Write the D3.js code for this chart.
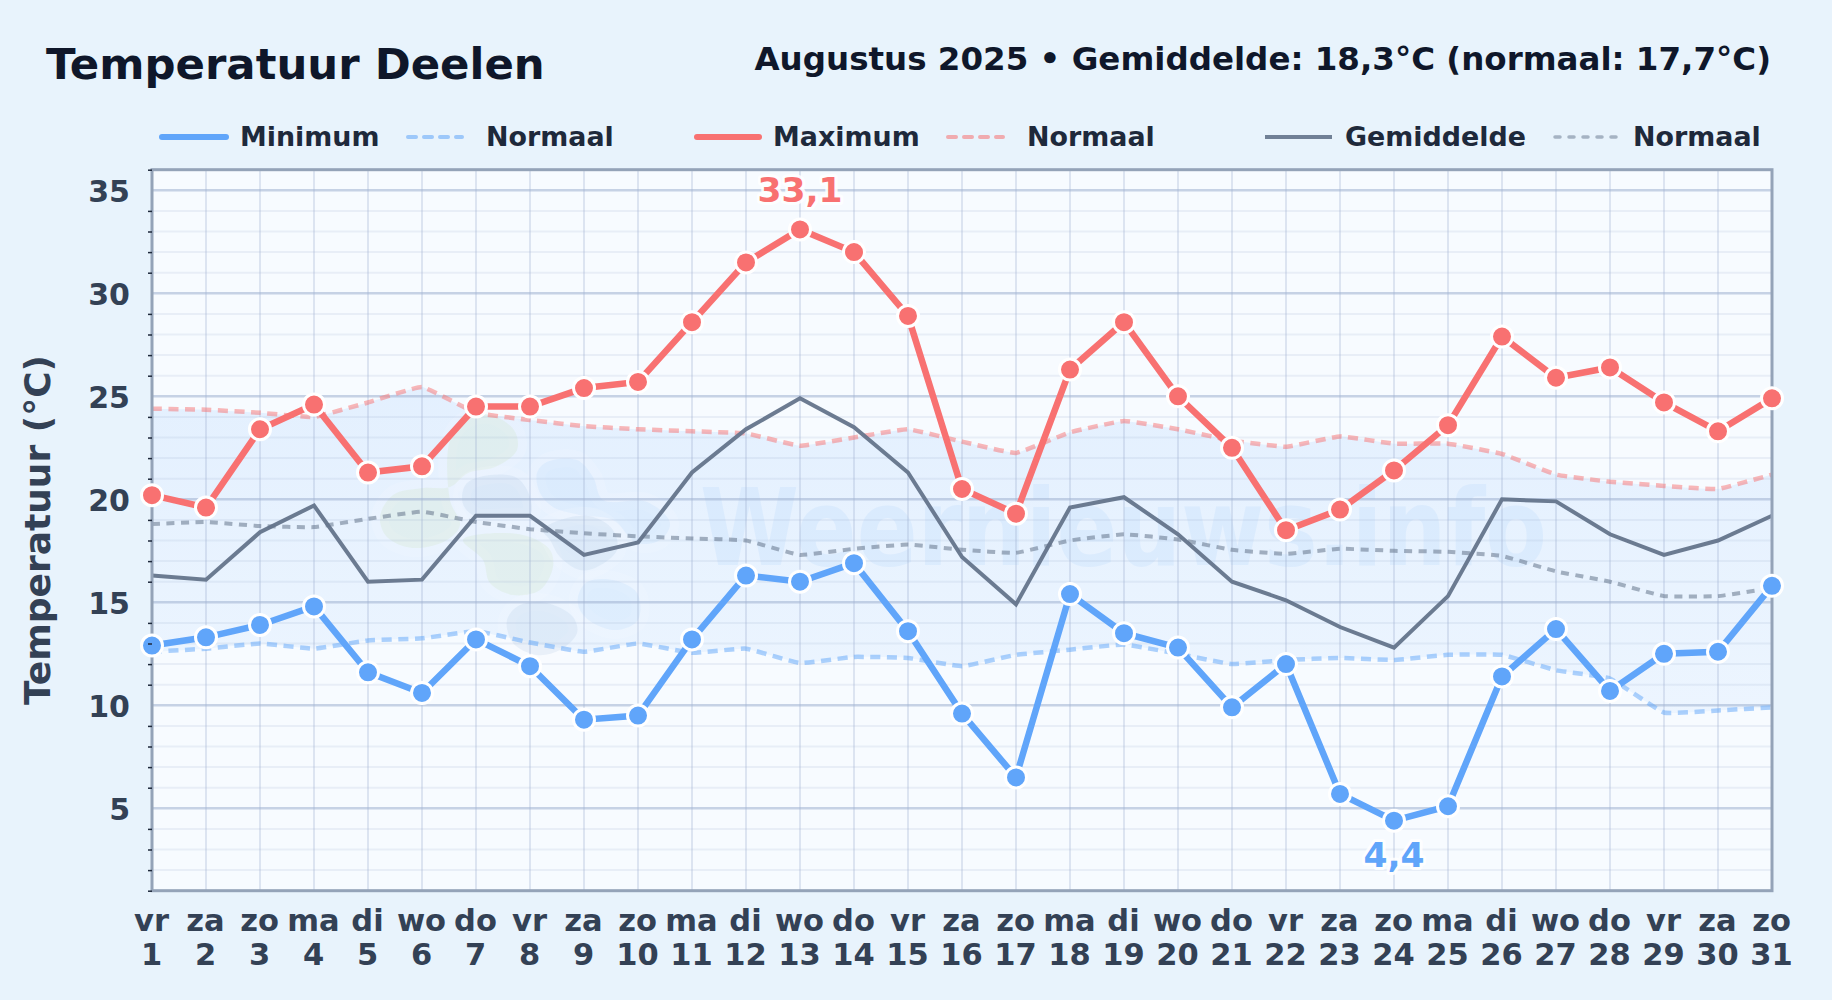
<!DOCTYPE html>
<html>
<head>
<meta charset="utf-8">
<script src="https://cdn.jsdelivr.net/npm/d3@7"></script>
<style>
    html, body { margin: 0; padding: 0; background: #e8f3fc; }
    svg { display: block; }
    text { font-family: "DejaVu Sans", sans-serif; font-weight: bold; }
</style>
</head>
<body>
<svg id="chart"></svg>
<script>
var weekdays = ["vr","za","zo","ma","di","wo","do","vr","za","zo","ma","di","wo","do","vr","za","zo","ma","di","wo","do","vr","za","zo","ma","di","wo","do","vr","za","zo"];
var days = d3.range(1, 32);

var minimum = [12.9,13.3,13.9,14.8,11.6,10.6,13.2,11.9,9.3,9.5,13.2,16.3,16.0,16.9,13.6,9.6,6.5,15.4,13.5,12.8,9.9,12.0,5.7,4.4,5.1,11.4,13.7,10.7,12.5,12.6,15.8];
var maximum = [20.2,19.6,23.4,24.6,21.3,21.6,24.5,24.5,25.4,25.7,28.6,31.5,33.1,32.0,28.9,20.5,19.3,26.3,28.6,25.0,22.5,18.5,19.5,21.4,23.6,27.9,25.9,26.4,24.7,23.3,24.9];
var gemiddelde = [16.3,16.1,18.4,19.7,16.0,16.1,19.2,19.2,17.3,17.9,21.3,23.4,24.9,23.5,21.3,17.2,14.9,19.6,20.1,18.3,16.0,15.1,13.8,12.8,15.3,20.0,19.9,18.3,17.3,18.0,19.2];

var normaal_min = [12.6,12.75,13.0,12.75,13.15,13.25,13.6,13.05,12.6,13.0,12.55,12.75,12.05,12.35,12.3,11.9,12.45,12.7,12.95,12.5,12.0,12.2,12.3,12.2,12.45,12.45,11.7,11.3,9.65,9.75,9.9];
var normaal_max = [24.4,24.35,24.2,24.0,24.7,25.45,24.2,23.85,23.55,23.4,23.3,23.2,22.6,23.0,23.4,22.8,22.25,23.25,23.8,23.4,22.85,22.55,23.05,22.7,22.7,22.2,21.2,20.85,20.65,20.5,21.2];
var normaal_gem = [18.8,18.9,18.7,18.65,19.05,19.4,18.9,18.55,18.35,18.2,18.1,18.0,17.3,17.6,17.8,17.55,17.4,18.0,18.3,18.05,17.55,17.35,17.6,17.5,17.45,17.25,16.5,16.0,15.3,15.3,15.7];

var major_ticks = [5, 10, 15, 20, 25, 30, 35];
var minor_ticks = d3.range(1, 37).filter(function (d) { return d % 5 != 0; });

var blue = "#60a5fa", red = "#f87171", slate = "#64748b";
var left = 152, right = 1772, top_y = 169.7, bottom_y = 890.7;

var x = d3.scaleLinear().domain([1, 31]).range([left, right]);
var y = d3.scaleLinear().domain([1, 36]).range([bottom_y, top_y]);

var svg = d3.select("#chart").attr("width", 1832).attr("height", 1000);

draw_titles();
draw_legend();
draw_plot();
draw_axes();


function draw_titles() {
    svg.append("text").attr("x", 46).attr("y", 79)
        .attr("font-size", 43.4).attr("fill", "#0f172a")
        .text("Temperatuur Deelen");

    svg.append("text").attr("x", 1771).attr("y", 70)
        .attr("text-anchor", "end")
        .attr("font-size", 32.5).attr("fill", "#0f172a")
        .text("Augustus 2025 \u2022 Gemiddelde: 18,3\u00b0C (normaal: 17,7\u00b0C)");
}


function draw_legend() {
    var items = [
        { x1: 162, x2: 226, tx: 240, label: "Minimum", color: blue, w: 6, dash: null, op: 1, cap: "round" },
        { x1: 408, x2: 462, tx: 486, label: "Normaal", color: blue, w: 4, dash: "8,8", op: 0.55, cap: "round" },
        { x1: 697, x2: 759, tx: 773, label: "Maximum", color: red, w: 6, dash: null, op: 1, cap: "round" },
        { x1: 948, x2: 1003, tx: 1027, label: "Normaal", color: red, w: 4, dash: "8,8", op: 0.55, cap: "round" },
        { x1: 1265, x2: 1332, tx: 1345, label: "Gemiddelde", color: slate, w: 4, dash: null, op: 0.9, cap: "butt" },
        { x1: 1555, x2: 1617, tx: 1633, label: "Normaal", color: slate, w: 3.5, dash: "5,9", op: 0.5, cap: "round" }
    ];

    items.forEach(function (d) {
        svg.append("line")
            .attr("x1", d.x1).attr("x2", d.x2).attr("y1", 137).attr("y2", 137)
            .attr("stroke", d.color).attr("stroke-width", d.w)
            .attr("stroke-dasharray", d.dash).attr("stroke-linecap", d.cap)
            .attr("opacity", d.op);

        svg.append("text").attr("x", d.tx).attr("y", 146)
            .attr("font-size", 26.9).attr("fill", "#1e293b")
            .text(d.label);
    });
}


function draw_plot() {
    var defs = svg.append("defs");
    var grad = defs.append("linearGradient").attr("id", "band")
        .attr("x1", 0).attr("x2", 0).attr("y1", 0).attr("y2", 1);
    grad.append("stop").attr("offset", "0%").attr("stop-color", blue).attr("stop-opacity", 0.13);
    grad.append("stop").attr("offset", "100%").attr("stop-color", blue).attr("stop-opacity", 0.07);

    // BACKGROUND
    svg.append("rect")
        .attr("x", left).attr("y", top_y)
        .attr("width", right - left).attr("height", bottom_y - top_y)
        .attr("fill", "#f7fbff");

    // BAND BETWEEN THE NORMALS
    var smooth = d3.curveCardinal.tension(0.7);
    var band = d3.area()
        .x(function (d, i) { return x(days[i]); })
        .y0(function (d, i) { return y(normaal_min[i]); })
        .y1(function (d) { return y(d); })
        .curve(smooth);

    svg.append("path").datum(normaal_max)
        .attr("d", band).attr("fill", "url(#band)");

    draw_watermark();
    draw_grid();

    // NORMAL LINES
    var line_smooth = d3.line()
        .x(function (d, i) { return x(days[i]); })
        .y(function (d) { return y(d); })
        .curve(smooth);

    svg.append("path").datum(normaal_min).attr("d", line_smooth)
        .attr("fill", "none").attr("stroke", blue).attr("stroke-width", 4.5)
        .attr("stroke-dasharray", "10,6.5").attr("opacity", 0.5);
    svg.append("path").datum(normaal_max).attr("d", line_smooth)
        .attr("fill", "none").attr("stroke", red).attr("stroke-width", 4.5)
        .attr("stroke-dasharray", "10,6.5").attr("opacity", 0.5);
    svg.append("path").datum(normaal_gem).attr("d", line_smooth)
        .attr("fill", "none").attr("stroke", slate).attr("stroke-width", 4)
        .attr("stroke-dasharray", "8,6.5").attr("opacity", 0.55);

    // MAIN LINES
    var line_straight = d3.line()
        .x(function (d, i) { return x(days[i]); })
        .y(function (d) { return y(d); });

    svg.append("path").datum(gemiddelde).attr("d", line_straight)
        .attr("fill", "none").attr("stroke", slate).attr("stroke-width", 4)
        .attr("opacity", 0.95);

    // FRAME
    svg.append("rect")
        .attr("x", left).attr("y", top_y)
        .attr("width", right - left).attr("height", bottom_y - top_y)
        .attr("fill", "none").attr("stroke", "#94a3b8").attr("stroke-width", 3);

    draw_series(minimum, blue, line_straight);
    draw_series(maximum, red, line_straight);

    // LABELS FOR THE EXTREMES
    value_label(13, 33.1, "33,1", red, -27);
    value_label(24, 4.4, "4,4", blue, 46);
}


function draw_series(values, color, line) {
    svg.append("path").datum(values).attr("d", line)
        .attr("fill", "none").attr("stroke", color).attr("stroke-width", 6.5);

    svg.append("g").selectAll("circle").data(values).enter().append("circle")
        .attr("cx", function (d, i) { return x(days[i]); })
        .attr("cy", function (d) { return y(d); })
        .attr("r", 10.5)
        .attr("fill", color)
        .attr("stroke", "#fff").attr("stroke-width", 3);
}


function value_label(day, value, label, color, dy) {
    svg.append("text")
        .attr("x", x(day)).attr("y", y(value) + dy)
        .attr("text-anchor", "middle")
        .attr("font-size", 34.5)
        .attr("fill", color)
        .attr("stroke", "#fff").attr("stroke-width", 6)
        .attr("stroke-linejoin", "round")
        .attr("stroke-opacity", 0.85)
        .attr("paint-order", "stroke")
        .text(label);
}


function draw_grid() {
    var grid = svg.append("g");
    var grid_color = "#9fb1d0";

    grid.selectAll(".minor").data(minor_ticks).enter().append("line")
        .attr("x1", left).attr("x2", right)
        .attr("y1", function (d) { return y(d); })
        .attr("y2", function (d) { return y(d); })
        .attr("stroke", grid_color).attr("stroke-opacity", 0.17).attr("stroke-width", 2);

    grid.selectAll(".vertical").data(days).enter().append("line")
        .attr("x1", function (d) { return x(d); })
        .attr("x2", function (d) { return x(d); })
        .attr("y1", top_y).attr("y2", bottom_y)
        .attr("stroke", grid_color).attr("stroke-opacity", 0.3).attr("stroke-width", 2);

    grid.selectAll(".major").data(major_ticks).enter().append("line")
        .attr("x1", left).attr("x2", right)
        .attr("y1", function (d) { return y(d); })
        .attr("y2", function (d) { return y(d); })
        .attr("stroke", grid_color).attr("stroke-opacity", 0.55).attr("stroke-width", 2.5);
}


function draw_watermark() {
    // LOGO BLOBS, DECORATION ONLY
    var blobs = [
        { color: "#cfe6c8", op: 0.28, pts: [[450,440],[465,420],[490,415],[514,430],[517,450],[495,467],[468,473],[450,487],[423,488],[393,495],[380,517],[387,537],[413,548],[447,540],[460,525],[450,500]] },
        { color: "#cfe6c8", op: 0.28, pts: [[463,540],[483,560],[490,583],[513,595],[540,590],[553,567],[550,550],[530,537],[497,533]] },
        { color: "#a9c2e0", op: 0.18, pts: [[462,497],[467,483],[490,475],[517,478],[530,497],[530,515],[507,517],[477,517],[465,508]] },
        { color: "#bcdcfa", op: 0.25, pts: [[537,473],[547,462],[577,460],[593,477],[603,500],[647,502],[670,523],[660,540],[637,543],[613,520],[580,515],[553,507],[540,493]] },
        { color: "#a9c2e0", op: 0.18, pts: [[543,530],[567,518],[593,517],[613,530],[617,550],[597,567],[580,570],[560,557],[550,540]] },
        { color: "#bcdcfa", op: 0.25, pts: [[578,597],[587,582],[613,580],[637,593],[638,620],[617,630],[593,623],[580,610]] },
        { color: "#a9c2e0", op: 0.18, pts: [[507,620],[520,605],[547,603],[573,617],[577,633],[560,650],[537,655],[513,643]] }
    ];
    var blob_line = d3.line().curve(d3.curveCatmullRomClosed);

    blobs.forEach(function (b) {
        svg.append("path").attr("d", blob_line(b.pts))
            .attr("fill", "none")
            .attr("stroke", "#fff").attr("stroke-opacity", 0.12).attr("stroke-width", 18);
        svg.append("path").attr("d", blob_line(b.pts))
            .attr("fill", b.color).attr("fill-opacity", b.op);
    });

    svg.append("text")
        .attr("x", 700).attr("y", 565)
        .attr("font-size", 107)
        .attr("textLength", 847)
        .attr("lengthAdjust", "spacingAndGlyphs")
        .attr("fill", "#93c5fd").attr("opacity", 0.14)
        .text("Weernieuws.info");
}


function draw_axes() {
    // MINOR TICKS ONLY, LABELS ON THE FIVES
    var minor_axis = d3.axisLeft(y).tickValues(minor_ticks).tickSize(4).tickFormat("");
    var g_minor = svg.append("g").attr("transform", "translate(" + left + ",0)").call(minor_axis);
    g_minor.select(".domain").remove();
    g_minor.selectAll("line").attr("stroke", "#1e293b").attr("stroke-width", 1.5);

    var major_axis = d3.axisLeft(y).tickValues(major_ticks).tickSize(0).tickPadding(22);
    var g_major = svg.append("g").attr("transform", "translate(" + left + ",1.2)").call(major_axis);
    g_major.select(".domain").remove();
    g_major.selectAll("text")
        .attr("font-size", 30)
        .attr("font-family", "DejaVu Sans")
        .attr("fill", "#334155");

    // TWO LINE DAY LABELS
    svg.append("g").selectAll("text").data(days).enter().append("text")
        .attr("x", function (d) { return x(d) - 0.5; })
        .attr("y", 931)
        .attr("text-anchor", "middle")
        .attr("font-size", 30.5)
        .attr("fill", "#334155")
        .text(function (d, i) { return weekdays[i]; });

    svg.append("g").selectAll("text").data(days).enter().append("text")
        .attr("x", function (d) { return x(d) - 0.5; })
        .attr("y", 965)
        .attr("text-anchor", "middle")
        .attr("font-size", 30.5)
        .attr("fill", "#334155")
        .text(function (d) { return d; });

    svg.append("text")
        .attr("transform", "translate(50,530) rotate(-90)")
        .attr("text-anchor", "middle")
        .attr("font-size", 36)
        .attr("fill", "#334155")
        .text("Temperatuur (\u00b0C)");
}
</script>
</body>
</html>
